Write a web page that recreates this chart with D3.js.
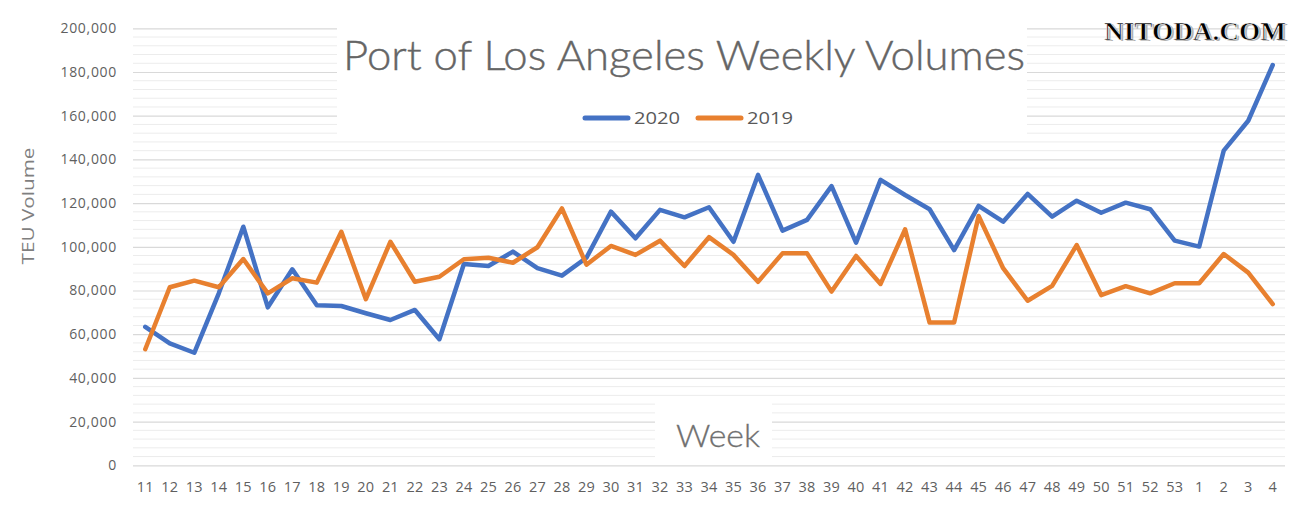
<!DOCTYPE html>
<html>
<head>
<meta charset="utf-8">
<script src="https://cdn.jsdelivr.net/npm/d3@7"></script>
<style>
  html, body { margin: 0; padding: 0; background: #fff; }
  svg { display: block; }
</style>
</head>
<body>
<svg id="chart" width="1298" height="513"></svg>
<script>
const weeks = ["11","12","13","14","15","16","17","18","19","20","21","22","23","24","25","26","27","28","29","30","31","32","33","34","35","36","37","38","39","40","41","42","43","44","45","46","47","48","49","50","51","52","53","1","2","3","4"];
const values2020 = [63400,55800,51500,78700,109200,72300,89700,73200,72900,69600,66500,71100,57700,92100,91200,97800,90200,86800,95000,116100,103900,116900,113500,118100,102300,132900,107400,112300,127800,101900,130600,123700,117200,98500,118700,111500,124200,113800,121100,115600,120200,117200,102800,100100,144000,157700,183200];
const values2019 = [53100,81500,84500,81500,94400,78700,85600,83600,106900,76000,102300,84000,86300,94300,95000,92700,99800,117600,91800,100400,96300,102800,91200,104400,96300,84000,97000,97000,79500,95800,83000,108000,65300,65300,114100,90200,75300,82100,100800,77900,82000,78700,83300,83300,96700,88200,73800];
const yTicks = [0,20000,40000,60000,80000,100000,120000,140000,160000,180000,200000];
const seriesNames = ["2020","2019"];
const seriesColors = ["#4472C4","#E8802F"];
const titleText = "Port of Los Angeles Weekly Volumes";
const yTitle = "TEU Volume";
const xTitle = "Week";
const watermark = "NITODA.COM";

(function () {
const svg = d3.select("#chart");
const pLeft = 133, pRight = 1285, pTop = 28.3, pBottom = 465.3;

const x = d3.scaleBand().domain(weeks).range([pLeft, pRight]).padding(0);
const y = d3.scaleLinear().domain([0, 200000]).range([pBottom, pTop]);
const cx = d => x(d) + x.bandwidth() / 2;

// minor gridlines
const minor = d3.range(0, 200001, 4000).filter(v => v % 20000 !== 0);
svg.append("g").selectAll("line").data(minor).join("line")
  .attr("x1", pLeft).attr("x2", pRight)
  .attr("y1", d => y(d)).attr("y2", d => y(d))
  .attr("stroke", "#ececec").attr("stroke-width", 1);

// major gridlines via axis
const yAxis = svg.append("g").attr("transform", `translate(${pLeft},0)`)
  .call(d3.axisLeft(y).tickValues(yTicks).tickSize(-(pRight - pLeft)).tickPadding(16)
    .tickFormat(d3.format(",")));
yAxis.select(".domain").remove();
yAxis.selectAll(".tick line").attr("stroke", "#d9d9d9").attr("stroke-width", 1.2);
yAxis.selectAll(".tick text")
  .attr("fill", "#5f5f5f").attr("font-family", "Open Sans, sans-serif")
  .attr("font-size", 14).attr("letter-spacing", "0.7px");

// x axis labels
const xAxis = svg.append("g").attr("transform", `translate(0,${pBottom})`)
  .call(d3.axisBottom(x).tickSize(0).tickPadding(16));
xAxis.select(".domain").remove();
xAxis.selectAll(".tick text")
  .attr("fill", "#5f5f5f").attr("font-family", "Open Sans, sans-serif")
  .attr("font-size", 14.5).attr("letter-spacing", "0.2px");

// white boxes (title/legend and axis title backgrounds)
svg.append("rect").attr("x", 337).attr("y", 0).attr("width", 690).attr("height", 137).attr("fill", "#fff");
svg.append("rect").attr("x", 655).attr("y", 399).attr("width", 117).attr("height", 63).attr("fill", "#fff");

// lines
const line = d3.line().x((d, i) => cx(weeks[i])).y(d => y(d));
[values2020, values2019].forEach((vals, k) => {
  svg.append("path").datum(vals)
    .attr("d", line)
    .attr("fill", "none")
    .attr("stroke", seriesColors[k])
    .attr("stroke-width", 4.5)
    .attr("stroke-linejoin", "round")
    .attr("stroke-linecap", "round");
});

// title
svg.append("text").attr("x", 343).attr("y", 70)
  .attr("font-family", "Lato, Open Sans, sans-serif").attr("font-weight", 300)
  .attr("font-size", 42).attr("fill", "#656565")
  .attr("stroke", "#656565").attr("stroke-width", 0.4)
  .attr("textLength", 682).attr("lengthAdjust", "spacingAndGlyphs")
  .text(titleText);

// legend
const legendX = [583, 696];
seriesNames.forEach((name, k) => {
  svg.append("line").attr("x1", legendX[k] + 2).attr("x2", legendX[k] + 45)
    .attr("y1", 118).attr("y2", 118)
    .attr("stroke", seriesColors[k]).attr("stroke-width", 5).attr("stroke-linecap", "round");
  svg.append("text").attr("x", legendX[k] + 51).attr("y", 124)
    .attr("font-family", "Open Sans, sans-serif").attr("font-size", 16)
    .attr("fill", "#595959").attr("textLength", 46).attr("lengthAdjust", "spacingAndGlyphs")
    .text(name);
});

// axis titles
svg.append("text").attr("transform", "translate(34,206) rotate(-90)")
  .attr("text-anchor", "middle")
  .attr("font-family", "Open Sans, sans-serif").attr("font-size", 16)
  .attr("fill", "#7f7f7f").attr("textLength", 117).attr("lengthAdjust", "spacingAndGlyphs")
  .text(yTitle);
svg.append("text").attr("x", 676).attr("y", 447)
  .attr("font-family", "Lato, Open Sans, sans-serif").attr("font-weight", 300)
  .attr("font-size", 32).attr("fill", "#707070")
  .attr("stroke", "#707070").attr("stroke-width", 0.3)
  .attr("textLength", 84).attr("lengthAdjust", "spacingAndGlyphs")
  .text(xTitle);

// watermark
svg.append("text").attr("x", 1106).attr("y", 41)
  .attr("font-family", "Liberation Serif, serif").attr("font-weight", "bold")
  .attr("font-size", 25).attr("fill", "#b0b0b0")
  .attr("textLength", 182).attr("lengthAdjust", "spacingAndGlyphs")
  .text(watermark);
svg.append("text").attr("x", 1104).attr("y", 40)
  .attr("font-family", "Liberation Serif, serif").attr("font-weight", "bold")
  .attr("font-size", 25).attr("fill", "#000")
  .attr("stroke", "#fff").attr("stroke-width", 0.6).attr("paint-order", "fill")
  .attr("textLength", 182).attr("lengthAdjust", "spacingAndGlyphs")
  .text(watermark);
})();
</script>
</body>
</html>
